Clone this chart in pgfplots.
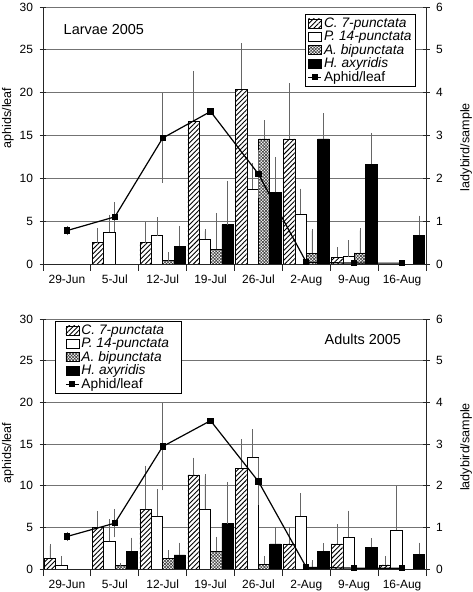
\documentclass[border=0pt]{standalone}
\usepackage{fontspec}
\setmainfont{Liberation Sans}
\usepackage{pgfplots}
\pgfplotsset{compat=1.18}
\usetikzlibrary{patterns,patterns.meta}

\pgfplotsset{
  common/.style={
    scale only axis, width=383bp,
    xmin=-0.5, xmax=7.5, ymin=0,
    tick align=center, major tick length=7bp,
    tick style={black!85, line width=0.8bp},
    axis line style={black!85, line width=0.9bp},
    ticklabel style={font=\fontsize{12}{14}\selectfont},
    label style={font=\fontsize{12.6}{15}\selectfont},
    /pgf/number format/assume math mode=true,
  },
  barax/.style={
    common,
    axis y line*=right, axis x line*=bottom,
    ymax=6, ytick={0,...,6},
    ymajorgrids, grid style={black!55, line width=0.9bp},
    ybar=0pt, bar width=0.237,
    xtick={-0.5,0.5,...,7.5},
    xticklabels={29-Jun,5-Jul,12-Jul,19-Jul,26-Jul,2-Aug,9-Aug,16-Aug,{}},
    xticklabel style={xshift=23.94bp, yshift=-0.5bp},
    yticklabel style={xshift=3bp},
    error bars/y dir=plus, error bars/y explicit,
    error bars/error bar style={black!60, line width=0.7bp},
    error bars/error mark options={black!60, line width=0.7bp, mark size=2.2bp},
  },
  aphax/.style={
    common,
    axis x line=none, axis y line*=left,
    ymax=30, ytick={0,5,...,30},
    yticklabel style={xshift=-3bp},
  },
  c7/.style={draw=black, line width=0.6bp, fill=white, postaction={pattern={Lines[angle=45,distance=3.4bp,line width=0.9bp]}, pattern color=black}},
  p14/.style={draw=black, line width=0.6bp, fill=white},
  abip/.style={draw=black, line width=0.6bp, fill=white, postaction={pattern={Hatch[angle=45,distance=2.2bp,line width=0.6bp]}, pattern color=black!75}},
  haxy/.style={draw=black, line width=0.6bp, fill=black},
  barlegend/.style={legend image code/.code={\draw[##1] (0bp,-4.5bp) rectangle (13bp,4.5bp);}},
  aphline/.style={black, line width=1.2bp, mark=square*, mark size=2.5bp,
    error bars/y dir=both, error bars/y explicit,
    error bars/error bar style={black!60, line width=0.7bp},
    error bars/error mark options={black!60, line width=0.7bp, mark size=2.2bp},
    legend image code/.code={\draw[mark repeat=2, mark phase=2, ##1] plot coordinates {(0bp,0bp) (6.5bp,0bp) (13bp,0bp)};}},
  leg/.style={legend style={draw=black, line width=0.8bp, fill=white,
    font=\fontsize{13.8}{16}\selectfont, inner ysep=1.5bp, row sep=-1.8bp,
    legend cell align=left}},
}

\begin{document}
\begin{tikzpicture}
\useasboundingbox (0,0) rectangle (473bp,592bp);

% ---------------- Larvae 2005 (top) ----------------
\begin{axis}[barax, at={(43bp,328bp)}, anchor=south west, height=257bp,
  ylabel={ladybird/sample},
  ylabel style={at={(rel axis cs:1,0.455)}, yshift=-40bp, anchor=center}]
\addplot[c7] table[x=x, y=y, y error=e] {
x y e
1 0.50 0.29
2 0.50 0.42
3 3.33 1.13
4 4.08 1.02
5 2.92 1.25
6 0.16 0.18
};
\addplot[p14] table[x=x, y=y, y error=e] {
x y e
1 0.74 0.36
2 0.66 0.38
3 0.58 0.18
4 1.75 0.55
5 1.17 0.54
6 0.17 0.33
};
\addplot[abip] table[x=x, y=y, y error=e] {
x y e
2 0.08 0.14
3 0.34 0.80
4 2.92 0.39
5 0.25 0.52
6 0.26 0.52
};
\addplot[haxy] table[x=x, y=y, y error=e] {
x y e
2 0.42 0.42
3 0.92 0.97
4 1.67 0.78
5 2.92 0.55
6 2.33 0.68
7 0.67 0.41
};
\end{axis}

\begin{axis}[aphax, at={(43bp,328bp)}, anchor=south west, height=257bp,
  ylabel={aphids/leaf},
  ylabel style={at={(rel axis cs:0,0.568)}, yshift=35bp, anchor=center},
  leg, legend style={at={(0.974,0.973)}, anchor=north east, inner xsep=2bp}]
\addlegendimage{barlegend, c7}
\addlegendentry{\textit{C. 7-punctata}}
\addlegendimage{barlegend, p14}
\addlegendentry{\textit{P. 14-punctata}}
\addlegendimage{barlegend, abip}
\addlegendentry{\textit{A. bipunctata}}
\addlegendimage{barlegend, haxy}
\addlegendentry{\textit{H. axyridis}}
\addplot[aphline] table[x=x, y=y, y error=e] {
x y e
0 3.9 0.3
1 5.5 1.45
2 14.7 5.0
3 17.8 0
4 10.5 2.5
5 0.2 0
6 0.1 0
7 0.1 0
};
\addlegendentry{Aphid/leaf}
\node[font=\fontsize{14.5}{17}\selectfont] at (rel axis cs:0.159,0.911) {Larvae 2005};
\end{axis}

% ---------------- Adults 2005 (bottom) ----------------
\begin{axis}[barax, at={(43bp,23bp)}, anchor=south west, height=250bp,
  ylabel={ladybird/sample},
  ylabel style={at={(rel axis cs:1,0.488)}, yshift=-40bp, anchor=center}]
\addplot[c7] table[x=x, y=y, y error=e] {
x y e
0 0.26 0.29
1 1.00 0.34
2 1.43 1.00
3 2.26 0.36
4 2.42 0.64
5 0.60 0.35
6 0.60 0.42
7 0.10 0.16
};
\addplot[p14] table[x=x, y=y, y error=e] {
x y e
0 0.10 0.16
1 0.66 0.48
2 1.26 0.61
3 1.43 0.79
4 2.68 0.62
5 1.27 0.50
6 0.76 0.59
7 0.93 1.01
};
\addplot[abip] table[x=x, y=y, y error=e] {
x y e
1 0.08 0
2 0.26 0.14
3 0.42 0.30
4 0.11 0.15
5 0.02 0.14
};
\addplot[haxy] table[x=x, y=y, y error=e] {
x y e
1 0.43 0.27
2 0.34 0.24
3 1.09 0.95
4 0.60 0.35
5 0.43 0.14
6 0.52 0.16
7 0.35 0.23
};
\end{axis}

\begin{axis}[aphax, at={(43bp,23bp)}, anchor=south west, height=250bp,
  ylabel={aphids/leaf},
  ylabel style={at={(rel axis cs:0,0.464)}, yshift=35bp, anchor=center},
  leg, legend style={at={(0.031,0.992)}, anchor=north west, inner xsep=10bp}]
\addlegendimage{barlegend, c7}
\addlegendentry{\textit{C. 7-punctata}}
\addlegendimage{barlegend, p14}
\addlegendentry{\textit{P. 14-punctata}}
\addlegendimage{barlegend, abip}
\addlegendentry{\textit{A. bipunctata}}
\addlegendimage{barlegend, haxy}
\addlegendentry{\textit{H. axyridis}}
\addplot[aphline] table[x=x, y=y, y error=e] {
x y e
0 3.9 0.3
1 5.5 1.45
2 14.7 5.0
3 17.8 0
4 10.5 2.5
5 0.2 0
6 0.1 0
7 0.1 0
};
\addlegendentry{Aphid/leaf}
\node[font=\fontsize{14.5}{17}\selectfont] at (rel axis cs:0.835,0.92) {Adults 2005};
\end{axis}
\end{tikzpicture}
\end{document}
